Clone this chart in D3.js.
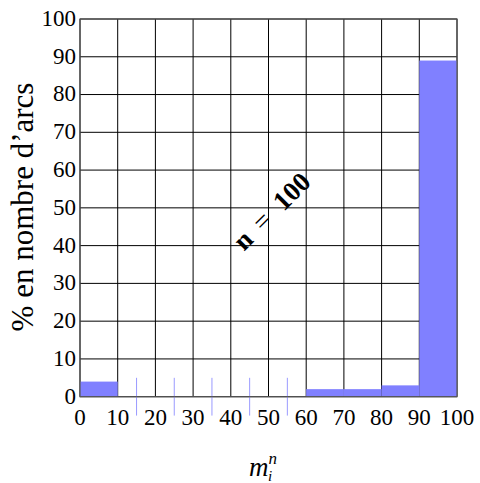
<!DOCTYPE html>
<html>
<head>
<meta charset="utf-8">
<script src="https://cdn.jsdelivr.net/npm/d3@7"></script>
<style>
  body { margin: 0; background: #fff; }
  text { font-family: "Liberation Serif", serif; fill: #000; }
</style>
</head>
<body>
<div id="chart"></div>
<script>
// bins of 10 along m_i^n, share of arcs (%)
var binStarts = [0, 10, 20, 30, 40, 50, 60, 70, 80, 90];
var pct = [4, 0, 0, 0, 0, 0, 2, 2, 3, 89];
var xTicks = [0, 10, 20, 30, 40, 50, 60, 70, 80, 90, 100];
var yTicks = [0, 10, 20, 30, 40, 50, 60, 70, 80, 90, 100];
var yTitle = "% en nombre d\u2019arcs";
var note = "n = 100";

var width = 480,
    height = 483;

var x = d3.scaleLinear().domain([0, 100]).range([80, 457]);
var y = d3.scaleLinear().domain([0, 100]).range([396.7, 19]);

var svg = d3.select("#chart")
    .append("svg")
    .attr("width", width)
    .attr("height", height);

// grid
var grid = svg.append("g").attr("class", "grid");
grid.selectAll(".vline")
    .data(xTicks)
    .enter()
    .append("line")
    .attr("x1", d => x(d)).attr("x2", d => x(d))
    .attr("y1", y(0)).attr("y2", y(100))
    .style("stroke", "#000")
    .style("stroke-width", 1);
grid.selectAll(".hline")
    .data(yTicks)
    .enter()
    .append("line")
    .attr("y1", d => y(d)).attr("y2", d => y(d))
    .attr("x1", x(0)).attr("x2", x(100))
    .style("stroke", "#000")
    .style("stroke-width", 1);

// bars
var data = binStarts.map(function(b, i) { return {start: b, value: pct[i]}; });

svg.append("g")
    .selectAll("rect")
    .data(data.filter(d => d.value > 0))
    .enter()
    .append("rect")
    .attr("x", d => x(d.start))
    .attr("width", d => x(d.start + 10) - x(d.start))
    .attr("y", d => y(d.value))
    .attr("height", d => y(0) - y(d.value))
    .style("fill", "#8080ff");

// empty bins marked with a thin line
svg.append("g")
    .selectAll("line")
    .data(data.filter(d => d.value == 0))
    .enter()
    .append("line")
    .attr("x1", d => x(d.start + 5)).attr("x2", d => x(d.start + 5))
    .attr("y1", y(5)).attr("y2", y(-5))
    .style("stroke", "#9a9aff")
    .style("stroke-width", 1);

// frame
svg.append("rect")
    .attr("x", x(0)).attr("y", y(100))
    .attr("width", x(100) - x(0))
    .attr("height", y(0) - y(100))
    .style("fill", "none")
    .style("stroke", "#555")
    .style("stroke-width", 1.2);

// tick labels
svg.append("g")
    .selectAll("text")
    .data(yTicks)
    .enter()
    .append("text")
    .attr("x", 76)
    .attr("y", d => y(d))
    .attr("dy", "0.3em")
    .attr("text-anchor", "end")
    .style("font-size", "23px")
    .text(d => d);

svg.append("g")
    .selectAll("text")
    .data(xTicks)
    .enter()
    .append("text")
    .attr("x", d => x(d))
    .attr("y", 425)
    .attr("text-anchor", "middle")
    .style("font-size", "23px")
    .text(d => d);

// axis titles
svg.append("text")
    .attr("transform", "translate(33," + 207 + ") rotate(-90)")
    .attr("text-anchor", "middle")
    .style("font-size", "31px")
    .text(yTitle);

var xt = svg.append("text")
    .attr("x", 249)
    .attr("y", 476)
    .style("font-style", "italic");
xt.append("tspan").style("font-size", "27px").text("m");
xt.append("tspan").attr("dy", -12).style("font-size", "17px").text("n");
xt.append("tspan").attr("dx", -9).attr("dy", 17).style("font-size", "15px").text("i");

// n = 100 note
var nt = svg.append("text")
    .attr("transform", "translate(" + x(50.8) + "," + y(49.2) + ") rotate(-45)")
    .attr("text-anchor", "middle")
    .attr("dy", "0.35em")
    .style("font-size", "27px")
    .style("font-weight", "bold");
var parts = note.split(" ");
nt.append("tspan").text(parts[0]);
nt.append("tspan").attr("dx", 12).style("font-weight", "normal").text(parts[1]);
nt.append("tspan").attr("dx", 14).text(parts[2]);
</script>
</body>
</html>
